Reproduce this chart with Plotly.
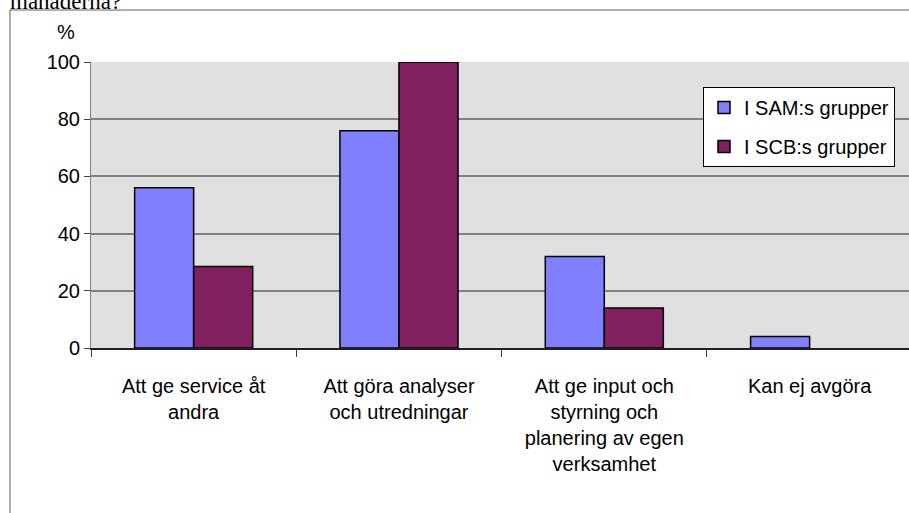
import plotly.graph_objects as go

categories = [
    "Att ge service åt<br>andra",
    "Att göra analyser<br>och utredningar",
    "Att ge input och<br>styrning och<br>planering av egen<br>verksamhet",
    "Kan ej avgöra",
]
series_names = ["I SAM:s grupper", "I SCB:s grupper"]
sam_values = [56, 76, 32, 4]
scb_values = [28.5, 100, 14, 0]
y_tick_values = [0, 20, 40, 60, 80, 100]
title_text = "månaderna?"
unit_label = "%"

colors = ["#8080ff", "#80205f"]
FONT = "Liberation Sans, Arial, sans-serif"

W, H = 909, 513
PL, PT, PR, PB = 91, 62, 909, 348  # plot area in pixels
L, T = PL, PT
pw = PR - PL
ph = PB - PT
R = W - L - pw
B = H - T - ph

fig = go.Figure()
for name, vals, col in zip(series_names, [sam_values, scb_values], colors):
    fig.add_trace(go.Bar(
        x=categories, y=vals, name=name, legendgroup=name,
        marker=dict(color=col,
                    line=dict(color="#000000",
                              width=[1.5 if v else 0 for v in vals])),
    ))

def px_x(p):
    return (p - PL) / pw

def px_y(p):
    return (PB - p) / ph

fig.update_layout(
    width=W, height=H,
    margin=dict(l=L, r=R, t=T, b=B, pad=0),
    paper_bgcolor="white",
    plot_bgcolor="#e0e0e0",
    barmode="group",
    bargap=0.425,
    bargroupgap=0,
    font=dict(family=FONT, size=20, color="#000000"),
    legend=dict(
        x=px_x(703), y=px_y(87), xanchor="left", yanchor="top",
        bgcolor="white", bordercolor="#000000", borderwidth=1,
        font=dict(family=FONT, size=20, color="#000000"),
        traceorder="grouped", tracegroupgap=10,
    ),
    xaxis=dict(
        type="category",
        range=[-0.5, 3.484],
        tickson="boundaries",
        ticks="outside", ticklen=7, tickcolor="#404040",
        ticklabelstandoff=19,
        showline=True, linecolor="#202020", linewidth=1.5,
        showgrid=False, zeroline=False,
        tickfont=dict(family=FONT, size=20, color="#000000"),
    ),
    yaxis=dict(
        range=[0, 100],
        tickvals=y_tick_values,
        ticks="outside", ticklen=6, tickcolor="#404040",
        showline=True, linecolor="#808080", linewidth=1,
        showgrid=True, gridcolor="#808080", gridwidth=1.5,
        zeroline=False,
        tickfont=dict(family=FONT, size=20, color="#000000"),
    ),
    shapes=[dict(
        type="rect", xref="paper", yref="paper",
        x0=px_x(10), x1=px_x(960), y0=px_y(10), y1=px_y(600),
        line=dict(color="#606060", width=1), fillcolor="rgba(0,0,0,0)",
        layer="below",
    )],
    annotations=[
        dict(text=unit_label, xref="paper", yref="paper",
             x=px_x(66), y=px_y(32), xanchor="center", yanchor="middle",
             showarrow=False, font=dict(family=FONT, size=20, color="#000000")),
        dict(text=title_text, xref="paper", yref="paper",
             x=px_x(8), y=px_y(16), xanchor="left", yanchor="bottom",
             showarrow=False,
             font=dict(family="Liberation Serif, Times New Roman, serif", size=23, color="#000000")),
    ],
)

fig.write_html(
    "out.html",
    config={"displayModeBar": False},
    post_script="document.body.style.margin='0';document.body.style.overflow='hidden';",
)
